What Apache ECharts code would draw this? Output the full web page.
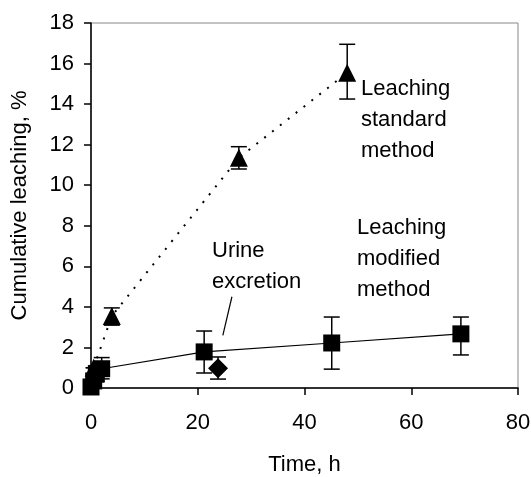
<!DOCTYPE html>
<html>
<head>
<meta charset="utf-8">
<script src="https://cdn.jsdelivr.net/npm/echarts@6/dist/echarts.min.js"></script>
<style>html,body{margin:0;padding:0;background:#fff}#c{width:531px;height:477px}</style>
</head>
<body>
<div id="c"></div>
<script>
// Data
var xTicks = [0, 20, 40, 60, 80];
var yTicks = [0, 2, 4, 6, 8, 10, 12, 14, 16, 18];
var standardX = [0.5, 3.9, 27.7, 48.0];
var standardY = [1.0, 3.55, 11.35, 15.55];
var standardLow = [1.0, 3.1, 10.8, 14.25];
var standardHigh = [1.0, 3.95, 11.9, 16.95];
var modifiedX = [0, 0.5, 1, 2, 21.2, 45.1, 69.3];
var modifiedY = [0.05, 0.35, 0.7, 0.95, 1.78, 2.22, 2.67];
var modifiedLow = [0.0, 0.05, 0.3, 0.45, 0.74, 0.93, 1.63];
var modifiedHigh = [0.2, 0.7, 1.1, 1.5, 2.81, 3.5, 3.5];
var urineX = [23.8];
var urineY = [0.98];
var urineLow = [0.44];
var urineHigh = [1.53];
var leaderLine = [[26.4, 4.5], [24.7, 2.6]];

function pts(xs, ys) { return xs.map(function (x, i) { return [x, ys[i]]; }); }
function errs(xs, lo, hi) { return xs.map(function (x, i) { return [x, lo[i], hi[i]]; }); }

var FONT = 'Liberation Sans';
function errRender(params, api) {
  var x = api.value(0), lo = api.value(1), hi = api.value(2);
  var p1 = api.coord([x, lo]), p2 = api.coord([x, hi]);
  var w = 8;
  var st = { stroke: '#000', lineWidth: 1.5 };
  return {
    type: 'group',
    children: [
      { type: 'line', shape: { x1: p1[0], y1: p1[1], x2: p2[0], y2: p2[1] }, style: st },
      { type: 'line', shape: { x1: p1[0] - w, y1: p1[1], x2: p1[0] + w, y2: p1[1] }, style: st },
      { type: 'line', shape: { x1: p2[0] - w, y1: p2[1], x2: p2[0] + w, y2: p2[1] }, style: st }
    ]
  };
}

var chart = echarts.init(document.getElementById('c'));
var txt = { fontFamily: FONT, fontSize: 22, fill: '#000', lineHeight: 31 };
chart.setOption({
  animation: false,
  grid: { left: 91, right: 13, top: 23, bottom: 89, show: true, borderColor: '#888', borderWidth: 1,
    containLabel: false, outerBoundsMode: 'none' },
  xAxis: {
    type: 'value', min: 0, max: 80, interval: 20,
    name: 'Time, h', nameLocation: 'middle', nameGap: 66,
    nameTextStyle: { fontFamily: FONT, fontSize: 22, color: '#000' },
    axisLine: { show: true, onZero: false, lineStyle: { color: '#000', width: 1.5 } },
    axisTick: { show: true, length: 7, lineStyle: { color: '#000', width: 1.5 } },
    axisLabel: { fontFamily: FONT, fontSize: 22, color: '#000', margin: 24,
      formatter: function (v) { return xTicks.indexOf(v) >= 0 ? String(v) : ''; } },
    splitLine: { show: false }
  },
  yAxis: {
    type: 'value', min: 0, max: 18, interval: 2,
    name: 'Cumulative leaching, %', nameLocation: 'middle', nameGap: 60,
    nameTextStyle: { fontFamily: FONT, fontSize: 22, color: '#000' },
    axisLine: { show: true, onZero: false, lineStyle: { color: '#000', width: 1.5 } },
    axisTick: { show: true, length: 7, lineStyle: { color: '#000', width: 1.5 } },
    axisLabel: { fontFamily: FONT, fontSize: 22, color: '#000', margin: 17,
      formatter: function (v) { return yTicks.indexOf(v) >= 0 ? String(v) : ''; } },
    splitLine: { show: false }
  },
  series: [
    { type: 'line', data: pts(standardX, standardY), symbol: 'triangle', symbolSize: 18,
      itemStyle: { color: '#000', opacity: 1 }, lineStyle: { color: '#000', width: 2, type: [2, 8] }, z: 3 },
    { type: 'custom', renderItem: errRender, data: errs(standardX, standardLow, standardHigh), z: 4 },
    { type: 'line', data: pts(modifiedX, modifiedY), symbol: 'rect', symbolSize: 17,
      itemStyle: { color: '#000', opacity: 1 }, lineStyle: { color: '#000', width: 1.2 }, z: 3 },
    { type: 'custom', renderItem: errRender, data: errs(modifiedX, modifiedLow, modifiedHigh), z: 4 },
    { type: 'scatter', data: pts(urineX, urineY), symbol: 'diamond', symbolSize: 20,
      itemStyle: { color: '#000', opacity: 1 }, z: 3,
      markLine: { silent: true, symbol: 'none', label: { show: false },
        lineStyle: { color: '#000', width: 1.2, type: 'solid' },
        data: [[{ coord: leaderLine[0] }, { coord: leaderLine[1] }]] } },
    { type: 'custom', renderItem: errRender, data: errs(urineX, urineLow, urineHigh), z: 4 }
  ],
  graphic: [
    { type: 'text', left: 361, top: 73, style: Object.assign({ text: 'Leaching\nstandard\nmethod' }, txt) },
    { type: 'text', left: 357, top: 212, style: Object.assign({ text: 'Leaching\nmodified\nmethod' }, txt) },
    { type: 'text', left: 212, top: 235, style: Object.assign({ text: 'Urine\nexcretion' }, txt) }
  ]
});
</script>
</body>
</html>
